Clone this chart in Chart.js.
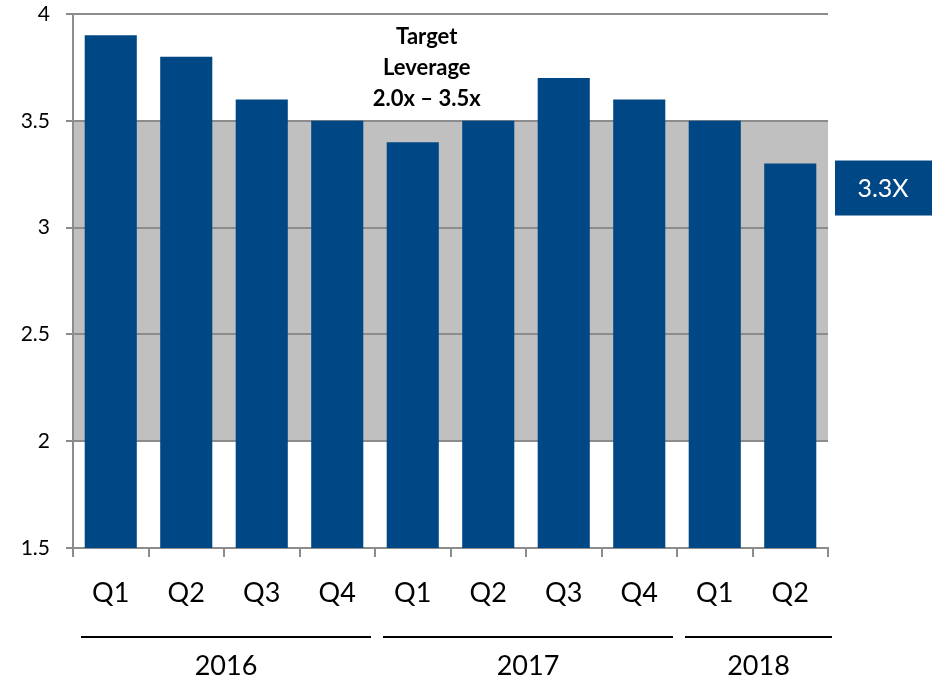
<!DOCTYPE html>
<html>
<head>
<meta charset="utf-8">
<script src="https://cdn.jsdelivr.net/npm/chart.js@4"></script>
<style>
  html, body { margin: 0; padding: 0; background: #fff; }
  #wrap { width: 932px; height: 681px; position: relative; }
</style>
</head>
<body>
<div id="wrap"><canvas id="leverageChart"></canvas></div>
<script>
const quarters = ['Q1', 'Q2', 'Q3', 'Q4', 'Q1', 'Q2', 'Q3', 'Q4', 'Q1', 'Q2'];
const leverage = [3.9, 3.8, 3.6, 3.5, 3.4, 3.5, 3.7, 3.6, 3.5, 3.3];
const years = ['2016', '2017', '2018'];
const yearStart = [0, 4, 8];
const yearEnd = [3, 7, 9];
const targetBand = [2.0, 3.5];
const targetText = ['Target', 'Leverage', '2.0x \u2013 3.5x'];
const currentLabel = '3.3X';

const BLUE = '#004785';
const FONT = 'Lato, "Open Sans", sans-serif';

const decorations = {
    id: 'decorations',
    beforeDraw(chart) {
        const { ctx, chartArea, scales: { y } } = chart;
        const top = y.getPixelForValue(targetBand[1]);
        const bottom = y.getPixelForValue(targetBand[0]);
        ctx.save();
        ctx.fillStyle = '#c0c0c0';
        ctx.fillRect(chartArea.left, top, chartArea.right - chartArea.left, bottom - top);
        ctx.restore();
    },
    afterDraw(chart) {
        const { ctx, chartArea, scales: { x, y } } = chart;
        const catW = x.getPixelForValue(1) - x.getPixelForValue(0);
        ctx.save();

        // year group lines and labels
        ctx.strokeStyle = '#000';
        ctx.lineWidth = 2;
        ctx.fillStyle = '#000';
        ctx.font = '27px ' + FONT;
        ctx.textAlign = 'center';
        ctx.textBaseline = 'middle';
        years.forEach((yr, i) => {
            const l = x.getPixelForValue(yearStart[i]) - catW / 2 + 8;
            const r = x.getPixelForValue(yearEnd[i]) + catW / 2 - (i === years.length - 1 ? -4 : 4);
            ctx.beginPath();
            ctx.moveTo(l, 637);
            ctx.lineTo(r, 637);
            ctx.stroke();
            ctx.fillText(yr, (l + r) / 2, 666);
        });

        // target note
        ctx.font = 'bold 22px ' + FONT;
        const tx = x.getPixelForValue(4) + 14;
        targetText.forEach((t, i) => {
            ctx.fillText(t, tx, 37 + i * 31);
        });

        // current value box
        const cy = y.getPixelForValue(leverage[leverage.length - 1]);
        ctx.fillStyle = BLUE;
        ctx.fillRect(chartArea.right + 7, cy - 3, 97, 55);
        ctx.fillStyle = '#fff';
        ctx.font = '25px ' + FONT;
        ctx.fillText(currentLabel, chartArea.right + 7 + 48, cy + 25);

        ctx.restore();
    }
};

new Chart(document.getElementById('leverageChart'), {
    type: 'bar',
    data: {
        labels: quarters,
        datasets: [{
            data: leverage,
            backgroundColor: BLUE,
            categoryPercentage: 1,
            barPercentage: 0.69
        }]
    },
    options: {
        responsive: true,
        maintainAspectRatio: false,
        animation: false,
        layout: { padding: { top: 14, right: 104, bottom: 0, left: 0 } },
        plugins: {
            legend: { display: false },
            tooltip: { enabled: false }
        },
        scales: {
            y: {
                min: 1.5,
                max: 4,
                afterFit: s => { s.width = 73; s.paddingTop = 0; s.paddingBottom = 0; },
                ticks: {
                    stepSize: 0.5,
                    color: '#000',
                    padding: 16,
                    font: { family: FONT, size: 21 },
                    callback: v => String(+v)
                },
                grid: {
                    color: '#8c8c8c',
                    lineWidth: 2,
                    tickLength: 7
                },
                border: { color: '#8c8c8c', width: 2 }
            },
            x: {
                afterFit: s => { s.height = 133; s.paddingLeft = 0; s.paddingRight = 0; },
                ticks: {
                    color: '#000',
                    padding: 20,
                    font: { family: FONT, size: 27 }
                },
                grid: {
                    offset: true,
                    drawOnChartArea: false,
                    color: '#8c8c8c',
                    lineWidth: 2,
                    tickLength: 9
                },
                border: { color: '#8c8c8c', width: 2 }
            }
        }
    },
    plugins: [decorations]
});
</script>
</body>
</html>
